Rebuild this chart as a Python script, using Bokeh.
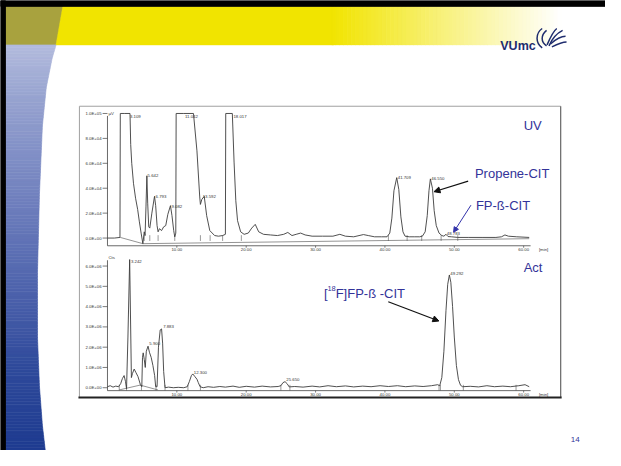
import numpy as np
from bokeh.plotting import figure
from bokeh.models import Range1d, Arrow, NormalHead
from bokeh.core.properties import value
from bokeh.embed import file_html
from bokeh.resources import INLINE

# ---------------- data ----------------
time_ticks = [10, 20, 30, 40, 50, 60]
time_tick_labels = ["10.00", "20.00", "30.00", "40.00", "50.00", "60.00"]
uv_ticks = [0, 2e4, 4e4, 6e4, 8e4, 1e5]
uv_tick_labels = ["0.0E+00", "2.0E+04", "4.0E+04", "6.0E+04", "8.0E+04", "1.0E+05"]
act_ticks = [0, 1e6, 2e6, 3e6, 4e6, 5e6, 6e6]
act_tick_labels = ["0.0E+00", "1.0E+06", "2.0E+06", "3.0E+06", "4.0E+06", "5.0E+06", "6.0E+06"]

# UV trace: time (min), signal (x 1e4 uV)
uv_time = [
    0.0, 1.0, 1.8, 1.85, 2.5, 3.25, 3.35, 3.5, 3.75, 4.05, 4.35, 4.6, 4.85, 5.1,
    5.3, 5.42, 5.55, 5.68, 5.8, 5.95, 6.1, 6.4, 6.78, 6.95, 7.15, 7.3, 7.5, 7.8, 8.1, 8.4,
    8.7, 9.08, 9.3, 9.55, 9.7, 9.85, 9.9, 11.0, 12.4, 12.9, 13.3, 13.4, 13.6, 13.95,
    14.3, 14.75, 15.45, 16.0, 16.6, 17.0, 17.05, 18.0, 18.25, 18.5, 18.75, 19.2, 19.7,
    20.3, 20.8, 21.3, 21.8, 22.5, 23.5, 24.5, 25.4, 26.0, 26.6, 27.2, 27.85, 28.5,
    29.5, 31.0, 32.5, 33.5, 34.3, 35.5, 36.9, 37.6, 38.5, 39.5, 40.3,
    40.7, 41.0, 41.3, 41.7, 42.0, 42.3, 42.6, 42.9, 43.5, 44.3, 45.0,
    45.4, 45.8, 46.1, 46.35, 46.55, 46.85, 47.1, 47.4, 47.8, 48.2, 48.5, 48.8, 49.1,
    49.6, 50.5, 52.0, 54.0, 56.0, 56.8, 57.3, 57.8, 59.0, 60.8]
uv_e4 = [
    0.0, 0.0, 0.05, 10.0, 10.0, 10.0, 7.5, 6.0, 4.4, 3.2, 2.3, 1.3, 0.4, -0.45,
    0.5, 0.2, 2.5, 5.0, 2.8, 0.9, 0.8, 2.0, 3.35, 2.6, 1.0, 0.5, 0.75, 0.6, 0.9, 1.0,
    1.9, 2.6, 1.8, 0.6, 0.1, 0.4, 10.0, 10.0, 10.0, 7.0, 3.3, 2.7, 3.1, 3.35,
    1.8, 0.6, 0.2, 0.15, 0.2, 0.3, 10.0, 10.0, 6.1, 3.0, 1.4, 0.5, 0.3,
    0.4, 0.8, 1.1, 0.5, 0.3, 0.25, 0.2, 0.3, 0.45, 0.2, 0.3, 0.4, 0.25,
    0.15, 0.15, 0.15, 0.3, 0.15, 0.1, 0.28, 0.2, 0.1, 0.1, 0.1,
    0.4, 1.6, 3.8, 4.85, 3.9, 1.7, 0.5, 0.15, 0.1, 0.1, 0.1,
    0.15, 0.5, 1.8, 3.8, 4.75, 4.0, 2.2, 1.0, 0.4, 0.2, 0.15, 0.3, 0.12,
    0.1, 0.05, 0.05, 0.05, 0.05, 0.1, 0.25, 0.15, 0.1, 0.05]

# Radioactivity trace: time (min), counts (x 1e6)
act_time = [
    0.0, 0.4, 0.8, 1.2, 1.6, 1.9, 2.15, 2.4, 2.6, 2.75, 2.95, 3.2, 3.45, 3.6,
    3.85, 4.1, 4.4, 4.75, 4.95, 5.05, 5.15, 5.3, 5.45, 5.6, 5.85, 6.05, 6.3, 6.55, 6.8, 6.95,
    7.15, 7.35, 7.6, 7.8, 7.95, 8.1, 8.3, 8.8, 9.5, 10.2, 11.0, 11.5, 11.8, 12.1, 12.3,
    12.6, 12.9, 13.1, 13.35, 13.8, 14.5, 15.3, 16.2, 17.0, 18.1, 19.0, 20.0, 21.2, 22.3,
    23.5, 24.6, 25.0, 25.3, 25.6, 25.9, 26.2, 27.0, 28.2, 29.5, 30.6, 31.8, 33.0,
    34.3, 35.5, 36.8, 38.0, 39.3, 40.5, 41.8, 43.0, 44.3, 45.5, 46.7, 47.6,
    47.9, 48.2, 48.5, 48.8, 49.05, 49.29, 49.5, 49.75, 50.0, 50.3, 50.6, 50.9, 51.2,
    52.3, 53.5, 54.7, 55.8, 57.0, 58.1, 59.3, 60.2, 60.8]
act_e6 = [
    0.05, 0.1, 0.03, 0.08, 0.05, 0.2, 0.45, 0.6, 0.3, -0.05, 2.5, 6.32, 0.5, 0.7,
    0.92, 0.75, 0.55, 0.15, 0.05, 1.5, 1.72, 1.4, 1.0, 1.8, 2.05, 1.75, 1.5, 1.1, 0.6, 0.05,
    0.05, 2.0, 2.85, 2.9, 2.2, 0.8, 0.0, 0.03, 0.0, 0.02, 0.0, 0.05, 0.3, 0.6, 0.68,
    0.55, 0.42, 0.25, 0.05, 0.0, 0.05, 0.02, 0.06, 0.03, 0.08, 0.02, 0.07, 0.03, 0.08,
    0.04, 0.06, 0.1, 0.25, 0.3, 0.2, 0.04, 0.06, 0.03, 0.08, 0.04, 0.1, 0.05,
    0.09, 0.04, 0.08, 0.05, 0.1, 0.06, 0.1, 0.05, 0.09, 0.06, 0.1, 0.15,
    0.1, 0.5, 1.8, 3.8, 5.1, 5.56, 5.2, 4.0, 2.5, 1.1, 0.4, 0.12, 0.05,
    0.07, 0.04, 0.1, 0.05, 0.08, 0.05, 0.1, 0.15, 0.05]

uv_peak_time = [3.109, 5.642, 6.793, 9.082, 11.042, 13.592, 18.017, 41.709, 46.550, 48.783]
uv_peak_e4 = [10.0, 5.04, 3.33, 2.56, 10.0, 3.33, 10.0, 4.88, 4.8, 0.33]
uv_peak_labels = ["3.109", "5.642", "6.793", "9.082", "11.042", "13.592", "18.017",
                  "41.709", "46.550", "48.783"]
act_peak_time = [3.242, 5.900, 7.883, 12.300, 25.650, 49.292]
act_peak_e6 = [6.24, 2.19, 3.0, 0.76, 0.4, 5.62]
act_peak_labels = ["3.242", "5.900", "7.883", "12.300", "25.650", "49.292"]

# integration baselines and peak start/end marks
uv_base_time = [1.85, 5.1, 60.8]
uv_base_e4 = [0.05, -0.45, -0.05]
act_base_time = [1.67, 4.71, 7.29]
act_base_e6 = [-0.11, 0.13, -0.11]
uv_mark_time = [5.3, 6.1, 7.3, 9.7, 13.4, 14.8, 16.6, 19.3, 40.5, 43.2, 45.3, 48.1, 50.5]
act_mark_time = [1.7, 2.75, 4.9, 7.0, 8.3, 11.6, 13.4, 25.0, 26.3, 47.8, 48.0, 51.3, 58.9]

uv_values = [v * 1e4 for v in uv_e4]
act_values = [v * 1e6 for v in act_e6]
uv_peak_values = [v * 1e4 for v in uv_peak_e4]
act_peak_values = [v * 1e6 for v in act_peak_e6]

# ---------------- layout (slide pixel frame 621 x 466) ----------------
FONT = "Liberation Sans"
BLUE = "#333399"
TRACE = "#3c3c3c"
SLIDE_W, SLIDE_H = 621, 466
T0_X, PX_PER_MIN = 109.8, 7.12
UV_ZERO_Y, PX_PER_UV = 246.0, 129.0 / 1e5
ACT_ZERO_Y, PX_PER_ACT = 401.0, 21.0 / 1e6


def t_from_x(x):
    return (x - T0_X) / PX_PER_MIN


def uv_from_y(y):
    return (UV_ZERO_Y - y) / PX_PER_UV


def act_from_y(y):
    return (ACT_ZERO_Y - y) / PX_PER_ACT


p = figure(width=605, height=450, x_range=Range1d(0, SLIDE_W), y_range=Range1d(SLIDE_H, 0),
           output_backend="svg", toolbar_location=None,
           x_axis_location=None, y_axis_location=None, min_border=0,
           outline_line_color=None, background_fill_color="white",
           border_fill_color="white")
p.grid.visible = False
p.extra_x_ranges = {"t": Range1d(t_from_x(0), t_from_x(SLIDE_W))}
p.extra_y_ranges = {"uv": Range1d(uv_from_y(SLIDE_H), uv_from_y(0)),
                    "act": Range1d(act_from_y(SLIDE_H), act_from_y(0))}


def hex2rgb(h):
    h = h.lstrip("#")
    return [int(h[i:i + 2], 16) for i in (0, 2, 4)]


def ramp(stops_pos, stops_col, pos):
    rgb = [np.interp(pos, stops_pos, [hex2rgb(c)[k] for c in stops_col]) for k in range(3)]
    return "#%02x%02x%02x" % tuple(int(round(c)) for c in rgb)


def txt(x, y, s, size, color, align="left", baseline="alphabetic", bold=False, **kw):
    p.text(x=x, y=y, text=s, text_font=value(FONT), text_font_size=value(f"{size}px"),
           text_color=color, text_align=align, text_baseline=baseline,
           text_font_style="bold" if bold else "normal", **kw)


# ---- slide decoration ----
# olive corner
p.patch([5, 64, 57, 5], [6, 6, 46, 46], fill_color="#A8A23E", line_color="#A8A23E")
# yellow band with fade
YEL = "#F1E400"
p.patch([57, 64, 342, 342], [46, 6, 6, 46], fill_color=YEL, line_color=YEL, line_width=0.5)
fx, fy, fc = [], [], []
for x0 in range(340, 622, 4):
    f = min(1.0, (x0 + 2 - 340) / 235.0)
    c = ramp([0, 1], [YEL, "#FFFFFF"], f)
    fx.append([x0, x0 + 4.5, x0 + 4.5, x0])
    fy.append([6, 6, 46, 46])
    fc.append(c)
p.patches(fx, fy, fill_color=fc, line_color=fc, line_width=0.4)

# left blue strip
edge_y = [46, 60, 90, 130, 200, 280, 350, 400, 440, 466]
edge_x = [57, 53, 47, 43, 40, 38, 38, 40, 43, 46]
stop_y = [46, 100, 200, 300, 380, 466]
stop_c = ["#B3BBDD", "#98A4D0", "#7282BF", "#4E63AC", "#2F4A9B", "#1E3B90"]
sx, sy, sc = [], [], []
for y0 in range(46, 466, 3):
    y1 = y0 + 3
    r0 = float(np.interp(y0, edge_y, edge_x))
    r1 = float(np.interp(y1, edge_y, edge_x))
    sx.append([5, r0, r1, 5])
    sy.append([y0, y0, y1, y1])
    sc.append(ramp(stop_y, stop_c, y0 + 1.5))
p.patches(sx, sy, fill_color=sc, line_color=sc, line_width=0.6)

# black slide border (top and left)
p.quad(left=[0, 0], right=[SLIDE_W, 5], top=[0, 0], bottom=[6, SLIDE_H],
       fill_color="black", line_color="black")

# VUmc logo
NAVY = "#1F2D6E"
txt([513], [47], ["VUmc"], 12.5, NAVY, bold=True)
p.bezier(x0=[556, 560.5, 561, 563, 564.5, 566],
         y0=[29, 31, 46, 47, 45, 48],
         x1=[556, 560.5, 571, 577, 580, 581],
         y1=[49, 47, 29, 31, 37, 43],
         cx0=[549, 554.5, 564, 566, 570, 572],
         cy0=[34, 36, 39, 40, 40, 45],
         cx1=[549, 554.5, 567, 571, 575, 577],
         cy1=[44, 43, 32, 34, 37, 43],
         line_color=NAVY, line_width=1.5)

# chart frame
p.segment(x0=[81, 81], y0=[109.5, 109.5], x1=[575, 81], y1=[109.5, 410.5],
          line_color="#A0A0A0", line_width=1)
p.segment(x0=[575], y0=[109.5], x1=[575], y1=[410.5], line_color="#666666", line_width=1.2)
p.segment(x0=[80], y0=[411], x1=[576], y1=[411], line_color="#222222", line_width=2)

# ---- chromatogram axes (drawn in data units) ----
SMALL = 4.3
TICK_T = 5 / PX_PER_MIN
GAP_T = 1 / PX_PER_MIN


def draw_axes(yr, axis_y, vals, labels, unit, unit_y, conv):
    axis_v = conv(axis_y)
    n = len(vals)
    p.segment(x0=[0], y0=[axis_v], x1=[0], y1=[conv(unit_y + 3)], x_range_name="t",
              y_range_name=yr, line_color="#444444", line_width=0.8)
    p.segment(x0=[-TICK_T] * n, y0=vals, x1=[0] * n, y1=vals, x_range_name="t",
              y_range_name=yr, line_color="#444444", line_width=0.7)
    txt([-TICK_T - GAP_T] * n, vals, labels, SMALL, "#333333", align="right",
        baseline="middle", x_range_name="t", y_range_name=yr)
    txt([0.15], [conv(unit_y)], [unit], SMALL, "#333333", x_range_name="t", y_range_name=yr)
    m = len(time_ticks)
    p.segment(x0=[0], y0=[axis_v], x1=[61.0], y1=[axis_v], x_range_name="t",
              y_range_name=yr, line_color="#444444", line_width=0.8)
    p.segment(x0=time_ticks, y0=[axis_v] * m, x1=time_ticks, y1=[conv(axis_y + 2)] * m,
              x_range_name="t", y_range_name=yr, line_color="#444444", line_width=0.7)
    txt(time_ticks, [conv(axis_y + 4)] * m, time_tick_labels, SMALL, "#333333",
        align="center", baseline="middle", x_range_name="t", y_range_name=yr)
    txt([62.2], [conv(axis_y + 4)], ["[min]"], SMALL, "#333333",
        baseline="middle", x_range_name="t", y_range_name=yr)


draw_axes("uv", 254.0, uv_ticks, uv_tick_labels, "\u00b5V", 116.5, uv_from_y)
draw_axes("act", 404.0, act_ticks, act_tick_labels, "Cts", 266.0, act_from_y)

# integration baselines
p.line(uv_base_time, [v * 1e4 for v in uv_base_e4], x_range_name="t", y_range_name="uv",
       line_color="#666666", line_width=0.7)
p.line(act_base_time, [v * 1e6 for v in act_base_e6], x_range_name="t", y_range_name="act",
       line_color="#666666", line_width=0.7)
p.segment(x0=uv_mark_time, y0=[uv_from_y(249)] * len(uv_mark_time),
          x1=uv_mark_time, y1=[uv_from_y(243)] * len(uv_mark_time),
          x_range_name="t", y_range_name="uv", line_color="#555555", line_width=0.6)
p.segment(x0=act_mark_time, y0=[act_from_y(404)] * len(act_mark_time),
          x1=act_mark_time, y1=[act_from_y(398)] * len(act_mark_time),
          x_range_name="t", y_range_name="act", line_color="#555555", line_width=0.6)

# traces
p.line(uv_time, uv_values, x_range_name="t", y_range_name="uv",
       line_color=TRACE, line_width=0.9)
p.line(act_time, act_values, x_range_name="t", y_range_name="act",
       line_color=TRACE, line_width=0.9)

# peak labels
top_uv = uv_from_y(UV_ZERO_Y - 129.0 + 3)
txt([t + GAP_T for t in uv_peak_time], [min(v, top_uv) for v in uv_peak_values],
    uv_peak_labels, SMALL, "#333333", baseline="middle", x_range_name="t", y_range_name="uv")
txt([t + GAP_T for t in act_peak_time], act_peak_values, act_peak_labels, SMALL,
    "#333333", baseline="middle", x_range_name="t", y_range_name="act")

# ---- annotations ----
BIG = 13
txt([537], [129], ["UV"], BIG, BLUE)
txt([487], [179], ["Propene-CIT"], BIG, BLUE)
txt([488], [212], ["FP-\u00df-CIT"], BIG, BLUE)
txt([537], [276], ["Act"], BIG, BLUE)
txt([332], [303], ["["], BIG, BLUE)
txt([335.6], [298], ["18"], 7.5, BLUE)
txt([344], [303], ["F]FP-\u00df -CIT"], BIG, BLUE)
txt([590], [455], ["14"], 8, BLUE, align="center", baseline="middle")

p.add_layout(Arrow(x_start=52.0, y_start=4.57e4, x_end=47.07, y_end=3.72e4,
                   x_range_name="t", y_range_name="uv", line_color="#111111", line_width=1.2,
                   end=NormalHead(size=6, fill_color="#111111", line_color="#111111")))
p.add_layout(Arrow(x_start=52.4, y_start=2.64e4, x_end=49.9, y_end=0.47e4,
                   x_range_name="t", y_range_name="uv", line_color="#3333AA", line_width=1.0,
                   end=NormalHead(size=5, fill_color="#3333AA", line_color="#3333AA")))
p.add_layout(Arrow(x_start=40.48, y_start=4.24e6, x_end=47.78, y_end=3.29e6,
                   x_range_name="t", y_range_name="act", line_color="#111111", line_width=1.2,
                   end=NormalHead(size=6, fill_color="#111111", line_color="#111111")))

open("out.html", "w").write(file_html(p, INLINE))
